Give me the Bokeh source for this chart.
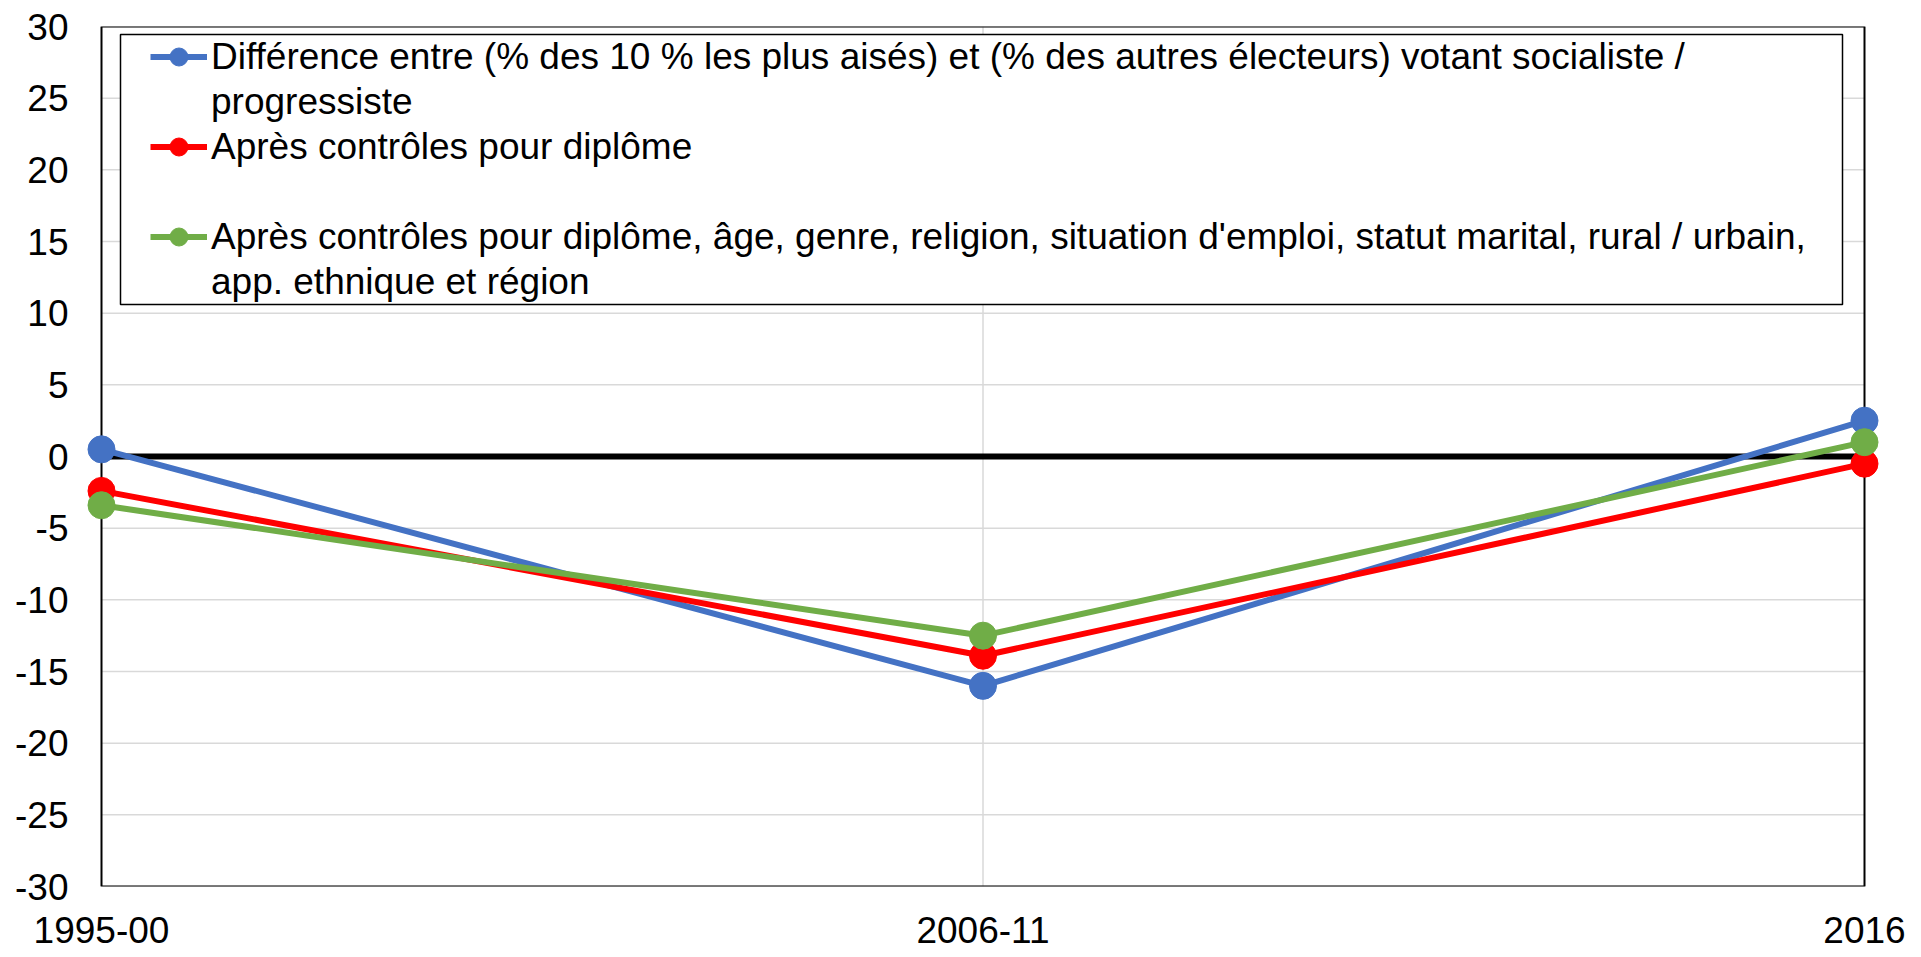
from bokeh.plotting import figure
from bokeh.models import (Range1d, FixedTicker, BoxAnnotation, Legend, LegendItem)
from bokeh.embed import file_html
from bokeh.resources import INLINE

# ---- data ----
periods = ["1995-00", "2006-11", "2016"]
diff_raw = [0.5, -16.0, 2.5]
diff_edu = [-2.4, -13.9, -0.5]
diff_all = [-3.4, -12.5, 1.0]
y_ticks = [-30, -25, -20, -15, -10, -5, 0, 5, 10, 15, 20, 25, 30]
labels = [
    "Différence entre (% des 10 % les plus aisés) et (% des autres électeurs) votant socialiste /",
    "progressiste",
    "Après contrôles pour diplôme",
    " ",
    "Après contrôles pour diplôme, âge, genre, religion, situation d'emploi, statut marital, rural / urbain,",
    "app. ethnique et région",
]
colors = ["#4472C4", "#FF0000", "#70AD47"]

FONT = "Liberation Sans"
FS = "37px"
xs = list(range(len(periods)))
x0, x1 = xs[0], xs[-1]
ylo, yhi = y_ticks[0], y_ticks[-1]

# layout: plot area box spans x 101..1864 px, y 26..886 px
W, H = 1921, 957
box_l, box_r, box_t, box_b = 101, 1864, 26, 886
pad_px = 15
xpx = (box_r - box_l) / (x1 - x0)
ypx = (box_b - box_t) / (yhi - ylo)
frame_l, frame_r = box_l - pad_px, box_r + pad_px

p = figure(width=W, height=H, output_backend="svg", toolbar_location=None,
           x_range=Range1d(x0 - pad_px / xpx, x1 + pad_px / xpx),
           y_range=Range1d(ylo, yhi),
           min_border_left=frame_l, min_border_right=W - frame_r,
           min_border_top=box_t, min_border_bottom=H - box_b)
p.background_fill_color = "white"
p.border_fill_color = "white"
p.outline_line_color = None
p.xgrid.visible = False
p.ygrid.visible = False

xax = p.xaxis[0]
xax.ticker = FixedTicker(ticks=xs)
xax.major_label_overrides = {x: s for x, s in zip(xs, periods)}
xax.axis_line_color = None
xax.major_tick_line_color = None
xax.minor_tick_line_color = None
xax.major_tick_out = 0
xax.major_tick_in = 0
xax.major_label_standoff = 30
xax.major_label_text_font = FONT
xax.major_label_text_font_size = FS
xax.major_label_text_color = "black"

yax = p.yaxis[0]
yax.ticker = FixedTicker(ticks=y_ticks)
yax.major_label_overrides = {t: str(t) for t in y_ticks}
yax.axis_line_color = None
yax.major_tick_line_color = None
yax.minor_tick_line_color = None
yax.major_tick_out = 0
yax.major_tick_in = 0
yax.major_label_standoff = 18
yax.major_label_text_font = FONT
yax.major_label_text_font_size = FS
yax.major_label_text_color = "black"

# gridlines (limited to the plot-area box)
p.segment(x0=[x0] * len(y_ticks), x1=[x1] * len(y_ticks), y0=y_ticks, y1=y_ticks,
          line_color="#d9d9d9", line_width=1.5, level="underlay")
p.segment(x0=xs[1:-1], x1=xs[1:-1], y0=[ylo] * (len(xs) - 2), y1=[yhi] * (len(xs) - 2),
          line_color="#d9d9d9", line_width=1.5, level="underlay")
# plot-area border
p.add_layout(BoxAnnotation(left=x0, right=x1, top=yhi, bottom=ylo, fill_alpha=0,
                           line_color="black", line_alpha=1.0, line_width=2,
                           level="underlay"))
# zero line
p.segment(x0=[x0], x1=[x1], y0=[0], y1=[0], line_color="black", line_width=6)

# series
renders = []
for ys, c in zip([diff_raw, diff_edu, diff_all], colors):
    l = p.line(xs, ys, line_color=c, line_width=6)
    s = p.scatter(xs, ys, size=27, fill_color=c, line_color=c)
    renders.append([l, s])

dummies = [p.line(x=[], y=[], line_alpha=0) for _ in range(3)]

# legend frame (x 120..1842, y 34..304 px)
p.add_layout(BoxAnnotation(left=x0 + (120 - box_l) / xpx, right=x0 + (1842 - box_l) / xpx,
                           top=yhi - (34 - box_t) / ypx, bottom=yhi - (304 - box_t) / ypx,
                           fill_color="white", fill_alpha=1.0,
                           line_color="black", line_alpha=1.0, line_width=1.5))

items = [
    LegendItem(label=labels[0], renderers=renders[0]),
    LegendItem(label=labels[1], renderers=[dummies[0]]),
    LegendItem(label=labels[2], renderers=renders[1]),
    LegendItem(label=labels[3], renderers=[dummies[1]]),
    LegendItem(label=labels[4], renderers=renders[2]),
    LegendItem(label=labels[5], renderers=[dummies[2]]),
]
row_h = 45
leg_top = 34
leg = Legend(items=items, location=(150 - frame_l, box_b - (leg_top + 6 * row_h)),
             padding=0, margin=0, spacing=0,
             label_height=row_h, glyph_height=row_h, glyph_width=57, label_standoff=4,
             label_text_font=FONT, label_text_font_size=FS,
             label_text_color="black", border_line_alpha=0,
             background_fill_alpha=0)
p.add_layout(leg, "center")

open("out.html", "w").write(file_html(p, INLINE))
